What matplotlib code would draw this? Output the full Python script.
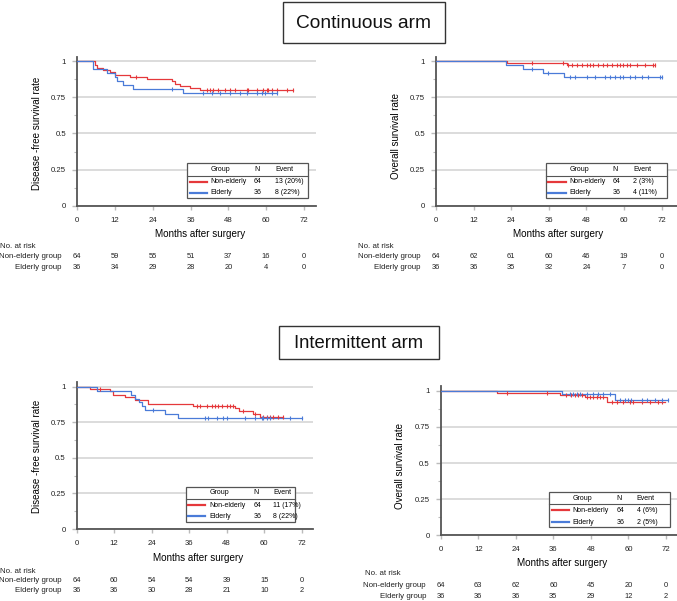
import numpy as np
import matplotlib
matplotlib.use("Agg")
import matplotlib.pyplot as plt
from matplotlib.patches import Rectangle
from matplotlib.lines import Line2D
import matplotlib.transforms as mtransforms

plt.rcParams['font.family'] = ['Liberation Sans', 'DejaVu Sans']

W, H = 677, 601
RED = '#e5383b'
BLUE = '#4a7bd8'

months = [0, 12, 24, 36, 48, 60, 72]
groups = ['Non-elderly', 'Elderly']

# ---------------- Continuous arm, disease-free survival ----------------
c_dfs_ne_t = [0, 5.7, 6.4, 8.3, 10.5, 12.0, 16.8, 22.1, 30.0, 31.1, 32.7, 35.8, 39.0]
c_dfs_ne_s = [1, 0.969, 0.953, 0.938, 0.922, 0.906, 0.891, 0.875, 0.859, 0.844, 0.828, 0.813, 0.797]
c_dfs_ne_end = 68.6
c_dfs_ne_cens = [18.7, 41.1, 42.2, 43.2, 44.8, 46.9, 48.5, 50.1, 53.8, 54.3, 57.0, 59.1,
                 60.2, 60.7, 61.8, 63.3, 66.5, 68.6]
c_dfs_el_t = [0, 5.2, 9.4, 12.0, 12.6, 14.7, 17.9, 33.7]
c_dfs_el_s = [1, 0.944, 0.917, 0.889, 0.861, 0.833, 0.806, 0.778]
c_dfs_el_end = 63.3
c_dfs_el_cens = [30.0, 40.1, 42.8, 45.4, 48.6, 51.7, 53.8, 57.0, 58.6, 59.7, 61.8, 63.3]
c_dfs_n = [64, 36]
c_dfs_event = ['13 (20%)', '8 (22%)']
c_dfs_risk_ne = [64, 59, 55, 51, 37, 16, 0]
c_dfs_risk_el = [36, 34, 29, 28, 20, 4, 0]

# ---------------- Continuous arm, overall survival ----------------
c_os_ne_t = [0, 22.5, 41.7]
c_os_ne_s = [1, 0.984, 0.969]
c_os_ne_end = 69.9
c_os_ne_cens = [30.5, 40.6, 42.2, 43.3, 44.9, 46.5, 48.1, 49.1, 50.2, 51.8, 53.4, 54.4,
                56.0, 57.6, 58.7, 59.8, 60.8, 61.9, 64.0, 66.7, 69.3, 69.9]
c_os_el_t = [0, 22.3, 27.9, 34.2, 40.8]
c_os_el_s = [1, 0.972, 0.944, 0.917, 0.889]
c_os_el_end = 72.0
c_os_el_cens = [30.5, 35.8, 42.7, 44.3, 48.1, 50.7, 53.9, 55.5, 57.1, 58.7, 59.8, 61.9,
                63.5, 65.6, 67.7, 71.5, 72.0]
c_os_n = [64, 36]
c_os_event = ['2 (3%)', '4 (11%)']
c_os_risk_ne = [64, 62, 61, 60, 46, 19, 0]
c_os_risk_el = [36, 36, 35, 32, 24, 7, 0]

# ---------------- Intermittent arm, disease-free survival ----------------
i_dfs_ne_t = [0, 4.3, 10.7, 11.7, 15.5, 18.7, 22.9, 37.3, 50.7, 52.0, 56.5, 58.7]
i_dfs_ne_s = [1, 0.984, 0.967, 0.945, 0.925, 0.906, 0.880, 0.864, 0.848, 0.831, 0.808, 0.790]
i_dfs_ne_end = 66.1
i_dfs_ne_cens = [7.5, 38.4, 39.5, 41.6, 43.2, 44.3, 45.3, 46.4, 48.0, 49.1, 50.1, 53.3,
                 57.1, 59.7, 60.8, 61.9, 62.9, 64.5, 66.1]
i_dfs_el_t = [0, 6.4, 17.5, 18.7, 19.8, 20.9, 22.0, 28.2, 32.5]
i_dfs_el_s = [1, 0.972, 0.944, 0.917, 0.889, 0.861, 0.833, 0.806, 0.778]
i_dfs_el_end = 72.0
i_dfs_el_cens = [24.5, 41.0, 42.1, 44.8, 46.9, 48.0, 53.9, 57.1, 59.2, 59.7, 60.8, 61.9,
                 68.3, 72.0]
i_dfs_n = [64, 36]
i_dfs_event = ['11 (17%)', '8 (22%)']
i_dfs_risk_ne = [64, 60, 54, 54, 39, 15, 0]
i_dfs_risk_el = [36, 36, 30, 28, 21, 10, 2]

# ---------------- Intermittent arm, overall survival ----------------
i_os_ne_t = [0, 17.9, 38.1, 46.1, 53.0]
i_os_ne_s = [1, 0.984, 0.969, 0.953, 0.925]
i_os_ne_end = 71.7
i_os_ne_cens = [21.1, 33.9, 40.2, 41.8, 42.9, 44.0, 45.0, 46.6, 47.7, 48.8, 49.8, 50.9,
                51.9, 54.6, 56.2, 58.3, 60.5, 61.5, 64.2, 66.9, 69.5, 70.6]
i_os_el_t = [0, 38.7, 55.7]
i_os_el_s = [1, 0.974, 0.937]
i_os_el_end = 72.7
i_os_el_cens = [41.3, 42.4, 43.4, 44.5, 46.6, 48.8, 50.3, 51.9, 54.0, 57.2, 58.8, 59.8,
                60.9, 64.2, 65.8, 68.4, 70.6, 72.7]
i_os_n = [64, 36]
i_os_event = ['4 (6%)', '2 (5%)']
i_os_risk_ne = [64, 63, 62, 60, 45, 20, 0]
i_os_risk_el = [36, 36, 36, 35, 29, 12, 2]

fig = plt.figure(figsize=(W / 100, H / 100), dpi=100)


def fx(x):
    return x / W


def fy(y):
    return 1 - y / H


def ftext(x, y, s, **kw):
    kw.setdefault('va', 'center')
    fig.text(fx(x), fy(y), s, **kw)


def make_axes(px0, px72, pxr, py0, py1, ytop=1.03):
    ppm = (px72 - px0) / 72.0
    xmax = (pxr - px0) / ppm
    ppu = py0 - py1
    top_px = py0 - ytop * ppu
    ax = fig.add_axes([fx(px0), fy(py0), (pxr - px0) / W, (py0 - top_px) / H])
    ax.set_xlim(0, xmax)
    ax.set_ylim(0, ytop)
    for sp in ['top', 'right']:
        ax.spines[sp].set_visible(False)
    for sp in ['left', 'bottom']:
        ax.spines[sp].set_color('#555555')
        ax.spines[sp].set_linewidth(1.3)
    ax.set_xticks(months)
    ax.set_xticklabels([str(m) for m in months])
    ax.set_yticks([0, 0.25, 0.5, 0.75, 1])
    ax.set_yticklabels(['0', '0.25', '0.5', '0.75', '1'])
    ax.set_yticks([0.125, 0.375, 0.625, 0.875], minor=True)
    ax.tick_params(axis='y', which='major', length=3.6, width=1, color='#bbbbbb',
                   labelsize=5.6, pad=4.3, labelcolor='#222222')
    ax.tick_params(axis='y', which='minor', length=2.2, width=0.8, color='#bbbbbb')
    ax.tick_params(axis='x', which='major', length=2.8, width=1, color='#bbbbbb',
                   labelsize=5.6, pad=5.0, labelcolor='#222222')
    ax.grid(axis='y', which='major', color='#d6d6d6', lw=1.2)
    ax.set_axisbelow(True)
    return ax


def draw_curve(ax, t, s, end, cens, color):
    ts = list(t) + [end]
    ss = list(s) + [s[-1]]
    ax.step(ts, ss, where='post', color=color, lw=0.9, zorder=3)
    idx = np.searchsorted(np.asarray(t), np.asarray(cens), side='right') - 1
    cy = np.asarray(s)[idx]
    ax.plot(cens, cy, ls='none', marker='|', ms=3.5, mew=0.8, color=color, zorder=4)


def legend_table(x0, x1, y0, y1, yh, ysep, yr1, yr2, xl0, xl1, xtxt, xn, xev, ns, evs):
    fig.patches.append(Rectangle((fx(x0), fy(y1)), (x1 - x0) / W, (y1 - y0) / H,
                                 transform=fig.transFigure, fc='white', ec='#555555',
                                 lw=0.9, zorder=5))
    fig.lines.append(Line2D([fx(x0), fx(x1)], [fy(ysep), fy(ysep)], transform=fig.transFigure,
                            color='#555555', lw=0.8, zorder=6))
    fs = 5.0
    ftext(xtxt, yh, 'Group', fontsize=fs, zorder=7)
    ftext(xn, yh, 'N', fontsize=fs, zorder=7)
    ftext(xev, yh, 'Event', fontsize=fs, zorder=7)
    for yy, col, g, n, e in zip([yr1, yr2], [RED, BLUE], groups, ns, evs):
        fig.lines.append(Line2D([fx(xl0), fx(xl1)], [fy(yy), fy(yy)], transform=fig.transFigure,
                                color=col, lw=1.6, zorder=7))
        ftext(xtxt, yy, g, fontsize=fs, zorder=7)
        ftext(xn, yy, str(n), fontsize=fs, zorder=7)
        ftext(xev, yy, e, fontsize=fs, zorder=7)


def at_risk(ax, xlab_right, xno, yno, y1, y2, r1, r2):
    ftext(xno, yno, 'No. at risk', fontsize=5.7, color='#222222')
    ftext(xlab_right, y1, 'Non-elderly group', fontsize=5.7, ha='right', color='#222222')
    ftext(xlab_right, y2, 'Elderly group', fontsize=5.7, ha='right', color='#222222')
    tr = mtransforms.blended_transform_factory(ax.transData, fig.transFigure)
    for m, a, b in zip(months, r1, r2):
        ax.text(m, fy(y1), str(a), transform=tr, ha='center', va='center', fontsize=5.4,
                color='#222222', clip_on=False)
        ax.text(m, fy(y2), str(b), transform=tr, ha='center', va='center', fontsize=5.4,
                color='#222222', clip_on=False)


def title_box(x0, x1, y0, y1, s, fs):
    fig.patches.append(Rectangle((fx(x0), fy(y1)), (x1 - x0) / W, (y1 - y0) / H,
                                 transform=fig.transFigure, fc='white', ec='#333333', lw=1.0))
    ftext((x0 + x1) / 2, (y0 + y1) / 2 + 0.5, s, fontsize=fs, ha='center', color='#111111')


# ---- Top-left
ax1 = make_axes(77, 304, 316, 206, 61)
draw_curve(ax1, c_dfs_ne_t, c_dfs_ne_s, c_dfs_ne_end, c_dfs_ne_cens, RED)
draw_curve(ax1, c_dfs_el_t, c_dfs_el_s, c_dfs_el_end, c_dfs_el_cens, BLUE)
ftext(37.3, 133.5, 'Disease -free survival rate', rotation=90, ha='center', fontsize=7)
ftext(199.7, 234.3, 'Months after surgery', ha='center', fontsize=7.1)
legend_table(187.3, 308.3, 163.3, 198.3, 169.3, 175.7, 181.5, 193.0, 190, 206.7, 210.7,
             254, 275, c_dfs_n, c_dfs_event)
at_risk(ax1, 62, 0, 246.7, 256.7, 267.7, c_dfs_risk_ne, c_dfs_risk_el)

# ---- Top-right
ax2 = make_axes(436, 661.7, 677, 206, 61)
draw_curve(ax2, c_os_ne_t, c_os_ne_s, c_os_ne_end, c_os_ne_cens, RED)
draw_curve(ax2, c_os_el_t, c_os_el_s, c_os_el_end, c_os_el_cens, BLUE)
ftext(396, 136, 'Overall survival rate', rotation=90, ha='center', fontsize=7)
ftext(558.3, 234.3, 'Months after surgery', ha='center', fontsize=7.1)
legend_table(545.7, 667.3, 163.3, 198.3, 169.3, 175.7, 181.5, 193.0, 548, 566, 569.3,
             612.7, 633.3, c_os_n, c_os_event)
at_risk(ax2, 421, 358.3, 246.7, 256.7, 267.7, c_os_risk_ne, c_os_risk_el)

# ---- Bottom-left
ax3 = make_axes(76.7, 301.7, 313, 529, 386.7)
draw_curve(ax3, i_dfs_ne_t, i_dfs_ne_s, i_dfs_ne_end, i_dfs_ne_cens, RED)
draw_curve(ax3, i_dfs_el_t, i_dfs_el_s, i_dfs_el_end, i_dfs_el_cens, BLUE)
ftext(37.3, 456, 'Disease -free survival rate', rotation=90, ha='center', fontsize=7)
ftext(197.8, 558.3, 'Months after surgery', ha='center', fontsize=7.1)
legend_table(185.7, 295, 487.3, 521.7, 492.7, 499, 505.3, 516.3, 188.3, 205, 209.3,
             253.3, 273.3, i_dfs_n, i_dfs_event)
at_risk(ax3, 62, 0, 571.7, 580.7, 591, i_dfs_risk_ne, i_dfs_risk_el)

# ---- Bottom-right
ax4 = make_axes(440.7, 666, 677, 535.3, 390.7)
draw_curve(ax4, i_os_ne_t, i_os_ne_s, i_os_ne_end, i_os_ne_cens, RED)
draw_curve(ax4, i_os_el_t, i_os_el_s, i_os_el_end, i_os_el_cens, BLUE)
ftext(400, 466, 'Overall survival rate', rotation=90, ha='center', fontsize=7)
ftext(562.5, 563.3, 'Months after surgery', ha='center', fontsize=7.1)
legend_table(549.3, 670, 492.3, 527.3, 498.3, 504, 510, 522.3, 552.3, 569.3, 572.3,
             616.7, 636.7, i_os_n, i_os_event)
at_risk(ax4, 426, 365, 573.3, 585.7, 596, i_os_risk_ne, i_os_risk_el)

# ---- Section titles
title_box(283, 445, 2, 43, 'Continuous arm', 13.8)
title_box(279, 439, 326, 359, 'Intermittent arm', 13.3)

fig.savefig('out.png', dpi=100, facecolor='white')
